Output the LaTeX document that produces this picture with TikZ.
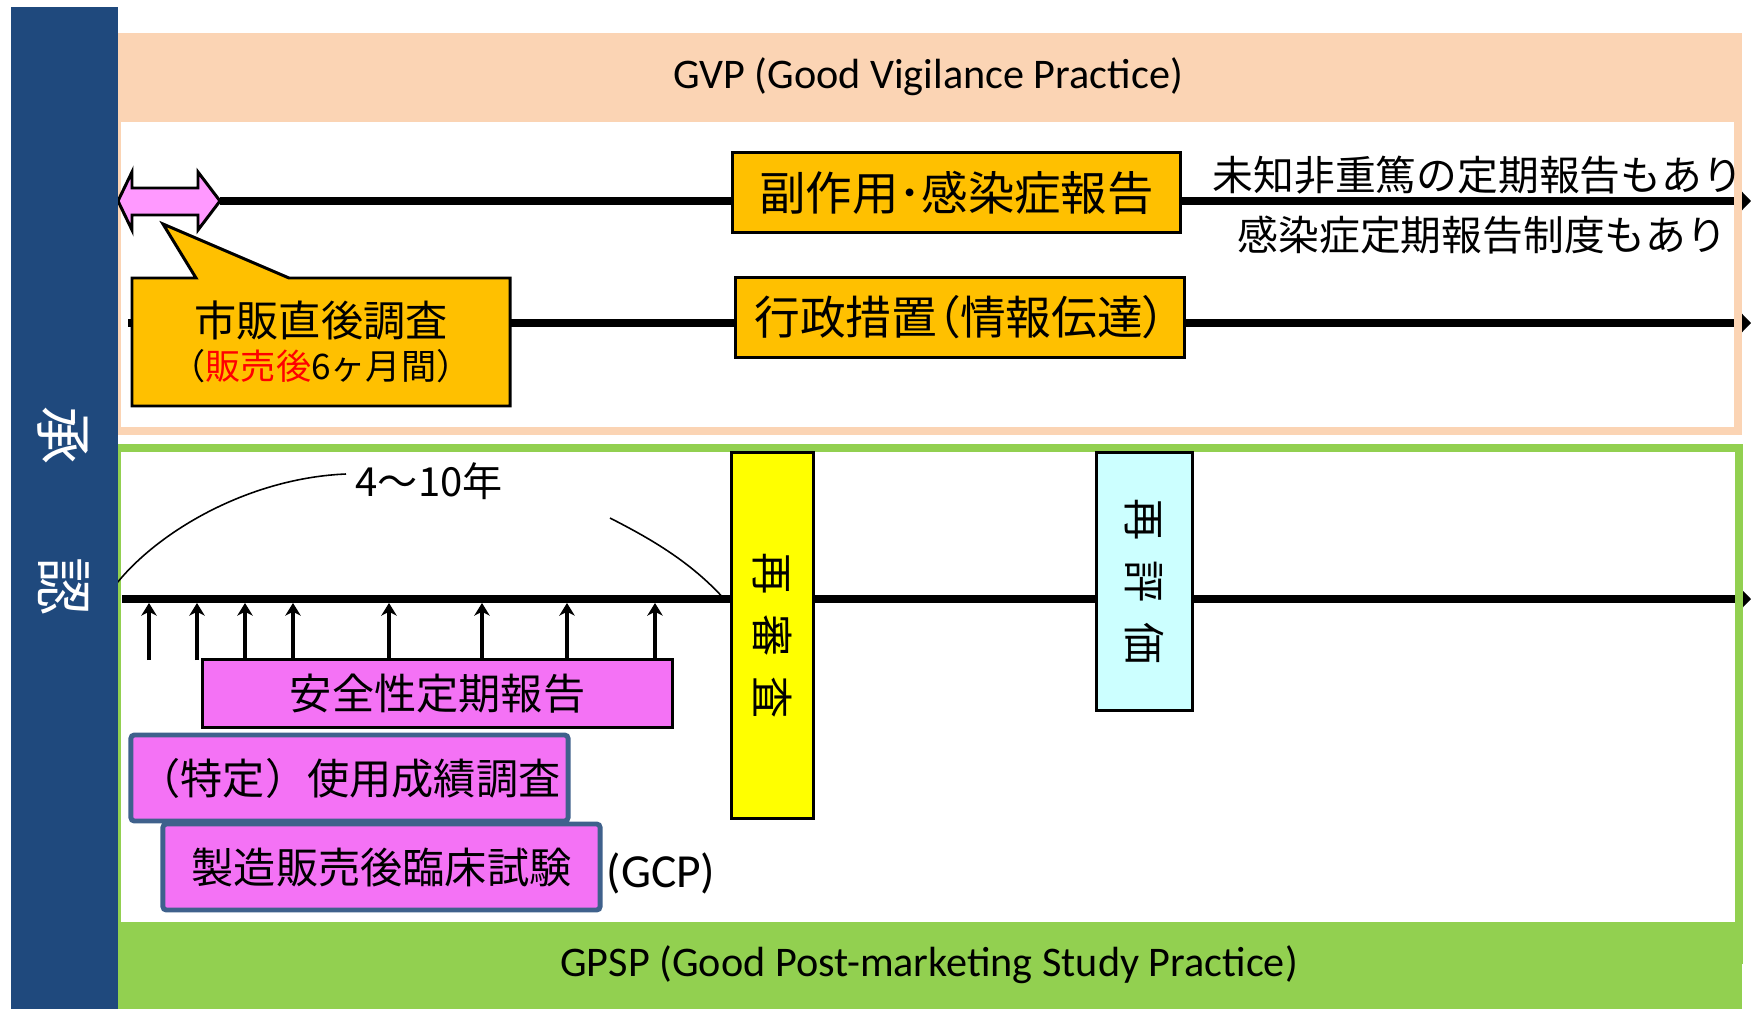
\documentclass[tikz,border=0pt]{standalone}
\usepackage{fontspec}
\setmainfont{Carlito}
\newfontfamily\jp{Noto Sans CJK JP}
\newfontfamily\jpp[RawFeature=+palt]{Noto Sans CJK JP}
\usetikzlibrary{arrows.meta}
\definecolor{barblue}{HTML}{1F497D}
\definecolor{peach}{HTML}{FBD4B4}
\definecolor{grn}{HTML}{92D050}
\definecolor{orng}{HTML}{FFC000}
\definecolor{lpink}{HTML}{FF99FF}
\definecolor{mag}{HTML}{F472F5}
\definecolor{slate}{HTML}{3F618C}
\definecolor{ylw}{HTML}{FFFF00}
\definecolor{cyn}{HTML}{CCFFFF}
\begin{document}
\begin{tikzpicture}[x=0.01cm,y=-0.01cm,
  jpt/.style={font=\jp\fontsize{12pt}{14pt}\selectfont},
  jpbig/.style={font=\jp\fontsize{12.8pt}{15pt}\selectfont},
  obox/.style={draw=black, line width=0.85pt, fill=orng, inner sep=0pt, jpbig},
  pbox/.style={draw=black, line width=0.85pt, fill=mag, inner sep=0pt, jpt},
  sbox/.style={draw=slate, line width=1.4pt, fill=mag, rounded corners=1pt, inner sep=0pt, jpt},
  vbox/.style={draw=black, line width=0.85pt, inner sep=0pt, rotate=-90, jpt},
  tline/.style={line width=2.2pt, -{Triangle[length=3pt,width=6pt]}},
  uparr/.style={line width=1.1pt, -{Stealth[length=3.6pt,width=4.4pt,inset=1.1pt]}},
  arcline/.style={line width=0.45pt},
  lat/.style={font=\fontsize{12pt}{14pt}\selectfont},
  frameline/.style={line width=2.4pt}
]
\useasboundingbox (0,0) rectangle (1751,1009);
\fill[white] (0,0) rectangle (1751,1009);

% coordinates
\coordinate (paL) at (118,201);
\coordinate (paR) at (220,201);
\coordinate (e1) at (1751,201);
\coordinate (s2) at (128,323);
\coordinate (e2) at (1751,323);
\coordinate (s3) at (122,599);
\coordinate (e3) at (1751,599);

% timelines
\draw[tline] (paR) -- (e1);
\draw[tline] (s2) -- (e2);
\draw[tline] (s3) -- (e3);

% frames
\draw[peach, frameline] (117,37) rectangle (1738,431);
\fill[peach] (117,33) rectangle (1742,122);
\draw[grn, frameline] (117,448) rectangle (1739,960);
\fill[grn] (117,922) rectangle (1742,1009);

\node[lat] (gvp) at (928,77) {GVP (Good Vigilance Practice)};
\node[lat] (gpsp) at (929,965) {GPSP (Good Post-marketing Study Practice)};

% double arrow
\filldraw[fill=lpink, draw=black, line width=0.85pt]
  (paL) -- (132,172) -- (132,188) -- (198,188) -- (198,172) -- (paR)
  -- (198,230) -- (198,215) -- (132,215) -- (132,230) -- cycle;

% callout
\filldraw[fill=orng, draw=black, line width=0.85pt]
  (132,278) -- (196,278) -- (163,224) -- (289,278) -- (510,278)
  -- (510,406) -- (132,406) -- cycle;
\node[jpt] (cs1) at (321,320) {市販直後調査};
\node[font=\jp\fontsize{10pt}{12pt}\selectfont] (cs2) at (321,366)
  {（\textcolor{red}{販売後}6ヶ月間）};

% orange boxes
\node[obox, font=\jp\fontsize{13.2pt}{15pt}\selectfont, minimum width=4.47cm, minimum height=0.79cm] (fuku) at (956.5,192.5) {副作用･感染症報告};
\node[obox, font=\jpp\fontsize{13pt}{15pt}\selectfont, minimum width=4.48cm, minimum height=0.79cm] (gyo) at (960,317.5) {行政措置（情報伝達）};

\node[font=\jp\fontsize{11.6pt}{14pt}\selectfont, anchor=west, inner sep=0pt] (note1) at (1212,175) {未知非重篤の定期報告もあり};
\node[font=\jp\fontsize{11.6pt}{14pt}\selectfont, anchor=west, inner sep=0pt] (note2) at (1237,235) {感染症定期報告制度もあり};

% arc and period label
\coordinate (a1) at (117,583);
\coordinate (a2) at (346,474);
\coordinate (a3) at (610,518);
\coordinate (a4) at (726,601);
\draw[arcline] (a1) .. controls (160,530) and (250,478) .. (a2);
\draw[arcline] (a3) .. controls (645,536) and (690,560) .. (a4);
\node[font=\jp\fontsize{11.4pt}{14pt}\selectfont, anchor=west, inner sep=0pt] (period) at (355,481) {4〜10年};

% up arrows
\foreach \x [count=\i] in {149,197,245,293,389,482,567,655} {
  \coordinate (ab\i) at (\x,660);
  \coordinate (at\i) at (\x,603);
  \draw[uparr] (ab\i) -- (at\i);
}

% pink boxes
\node[pbox, minimum width=4.69cm, minimum height=0.67cm] (anzen) at (437.5,693.5) {安全性定期報告};
\node[sbox, minimum width=4.37cm, minimum height=0.86cm] (shiyo) at (349.5,778) {（特定）使用成績調査};
\node[sbox, minimum width=4.37cm, minimum height=0.86cm] (rinsho) at (381.5,867) {製造販売後臨床試験};
\node[font=\fontsize{13.5pt}{16pt}\selectfont, anchor=west, inner sep=0pt] (gcp) at (606,873) {(GCP)};

% vertical boxes
\node[vbox, fill=ylw, minimum width=3.65cm, minimum height=0.81cm] (saishinsa) at (772.5,635.5) {再\hspace{0.47em}審\hspace{0.47em}査};
\node[vbox, fill=cyn, minimum width=2.57cm, minimum height=0.95cm] (saihyoka) at (1144.5,581.5) {再\hspace{0.47em}評\hspace{0.47em}価};

% left bar
\fill[barblue] (11,7) rectangle (118,1009);
\node[font=\jp\fontsize{16.5pt}{19pt}\selectfont, text=white, rotate=-90] (shonin) at (63,511) {承\hspace{1.6em}認};
\end{tikzpicture}
\end{document}
